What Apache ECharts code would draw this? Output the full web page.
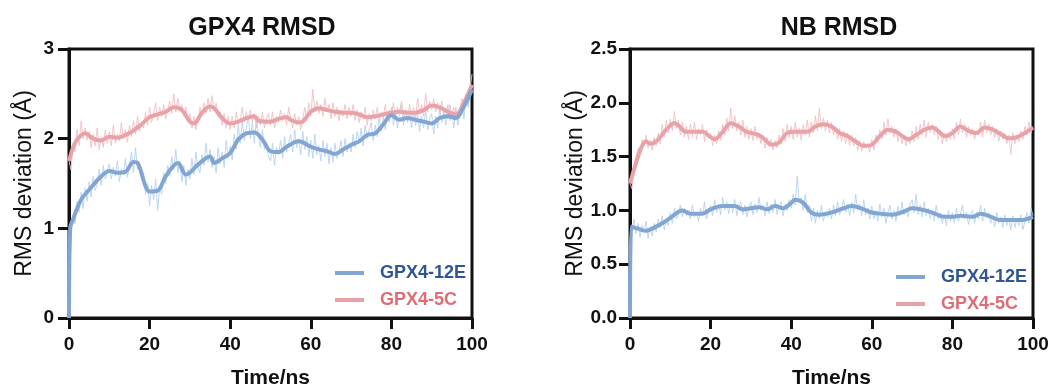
<!DOCTYPE html>
<html>
<head>
<meta charset="utf-8">
<script src="https://cdn.jsdelivr.net/npm/echarts@6/dist/echarts.min.js"></script>
<style>html,body{margin:0;padding:0;background:#fff}#c{width:1052px;height:389px}</style>
</head>
<body>
<div id="c"></div>
<script>
// ---------- data ----------
const titles = ['GPX4 RMSD', 'NB RMSD'];
const seriesNames = ['GPX4-12E', 'GPX4-5C'];
const xTicks = [0, 20, 40, 60, 80, 100];
const yTicksGPX4 = [0, 1, 2, 3];
const yTicksNB = [0.0, 0.5, 1.0, 1.5, 2.0, 2.5];
const rawStep = 0.5; // ns between raw samples

// raw trajectories (0..100 ns, every 0.5 ns)
const gpx4Raw12E = [
0.00,0.98,1.15,1.05,1.30,1.18,1.40,1.22,1.45,1.30,
1.52,1.35,1.58,1.42,1.50,1.66,1.48,1.70,1.55,1.63,
1.72,1.55,1.68,1.58,1.75,1.52,1.66,1.60,1.78,1.57,
1.70,1.85,1.62,1.90,1.66,1.72,1.55,1.62,1.38,1.50,
1.25,1.48,1.32,1.55,1.20,1.45,1.38,1.62,1.50,1.70,
1.58,1.80,1.65,1.88,1.62,1.75,1.52,1.70,1.48,1.66,
1.55,1.78,1.60,1.85,1.68,1.62,1.82,1.70,1.95,1.74,
1.88,1.68,1.80,1.62,1.90,1.72,1.85,1.68,1.98,1.78,
1.92,1.76,2.05,1.88,2.15,1.95,2.20,1.98,2.12,2.25,
2.00,2.18,1.95,2.22,2.05,1.90,2.10,1.88,1.95,1.80,
1.75,1.95,1.70,1.90,1.82,1.98,1.78,2.02,1.85,1.95,
2.05,1.85,2.10,1.90,2.00,1.82,2.08,1.88,2.02,1.80,
1.98,1.78,2.05,1.82,1.92,1.75,1.98,1.80,1.95,1.72,
1.90,1.74,1.95,1.78,1.85,1.98,1.80,2.00,1.85,1.95,
1.85,2.05,1.90,2.08,1.95,2.12,1.92,2.15,2.00,2.10,
2.18,1.98,2.15,2.02,2.22,2.08,2.25,2.10,2.30,2.18,
2.35,2.15,2.30,2.12,2.28,2.38,2.15,2.32,2.18,2.26,
2.12,2.30,2.15,2.28,2.08,2.25,2.12,2.32,2.10,2.22,
2.28,2.05,2.25,2.12,2.35,2.18,2.30,2.15,2.38,2.20,
2.30,2.12,2.35,2.15,2.28,2.40,2.22,2.45,2.35,2.50,
2.58];
const gpx4Raw5C = [
1.75,1.65,1.95,1.85,2.10,1.92,2.20,2.00,2.12,1.98,
2.08,1.90,2.05,1.92,2.12,1.88,2.02,1.90,2.10,1.95,
2.08,1.92,2.15,1.95,2.05,1.98,2.18,2.00,2.10,1.96,
2.15,2.02,2.20,2.05,2.25,2.08,2.18,2.12,2.30,2.15,
2.35,2.18,2.28,2.40,2.20,2.35,2.25,2.38,2.22,2.32,
2.42,2.28,2.50,2.30,2.45,2.32,2.38,2.25,2.35,2.20,
2.28,2.12,2.25,2.10,2.22,2.35,2.25,2.40,2.28,2.45,
2.30,2.48,2.32,2.40,2.25,2.30,2.15,2.28,2.12,2.25,
2.10,2.25,2.12,2.30,2.15,2.22,2.35,2.18,2.30,2.20,
2.32,2.18,2.28,2.12,2.25,2.15,2.30,2.12,2.22,2.28,
2.15,2.30,2.12,2.25,2.18,2.32,2.20,2.28,2.15,2.35,
2.22,2.12,2.28,2.15,2.25,2.10,2.22,2.35,2.20,2.40,
2.25,2.55,2.30,2.42,2.28,2.38,2.25,2.45,2.30,2.38,
2.22,2.40,2.25,2.35,2.20,2.32,2.25,2.38,2.22,2.35,
2.25,2.38,2.20,2.32,2.18,2.30,2.22,2.35,2.15,2.28,
2.20,2.32,2.22,2.35,2.18,2.30,2.25,2.38,2.22,2.32,
2.25,2.40,2.22,2.35,2.28,2.42,2.25,2.32,2.20,2.38,
2.25,2.35,2.22,2.45,2.28,2.38,2.25,2.50,2.30,2.42,
2.32,2.45,2.30,2.40,2.28,2.42,2.25,2.35,2.22,2.38,
2.25,2.35,2.20,2.30,2.32,2.45,2.35,2.50,2.40,2.55,
2.72];
const nbRaw12E = [
0.00,0.80,0.92,0.78,0.88,0.75,0.86,0.80,0.90,0.74,
0.85,0.76,0.88,0.80,0.92,0.84,0.95,0.82,0.90,0.86,
0.98,0.88,1.02,0.92,0.96,1.05,0.94,1.02,0.95,1.00,
0.92,1.05,0.94,0.98,0.90,1.02,0.95,1.08,0.92,0.99,
1.05,0.95,1.10,0.98,1.06,0.96,1.12,1.00,1.08,0.97,
1.06,0.98,1.10,0.95,1.04,1.08,0.96,1.05,0.94,1.02,
1.08,0.96,1.06,0.98,1.12,1.00,1.05,0.95,1.08,0.97,
1.06,0.98,1.10,0.96,1.04,1.08,0.95,1.06,1.00,1.10,
1.02,1.15,1.05,1.32,1.08,1.12,1.00,1.15,0.98,1.05,
0.90,1.02,0.88,1.00,0.92,1.05,0.90,0.98,0.94,1.02,
0.92,1.05,0.95,1.08,0.96,1.02,1.10,0.98,1.06,0.95,
1.08,0.98,1.15,1.00,1.06,0.95,1.10,0.96,1.02,0.92,
1.04,0.92,1.00,0.90,1.06,0.94,1.02,0.88,0.98,1.05,
0.92,1.00,0.90,1.04,0.95,1.08,0.96,1.02,0.94,1.06,
1.10,0.98,1.15,0.96,1.05,0.94,1.08,0.95,1.02,0.92,
1.00,0.90,1.05,0.92,0.98,0.88,0.96,0.86,1.00,0.90,
0.98,0.88,1.02,0.90,0.96,1.05,0.92,0.98,0.87,0.96,
1.00,0.88,0.98,0.92,1.05,0.90,1.02,0.94,0.98,0.88,
0.95,0.85,0.98,0.88,0.94,0.84,0.96,0.86,0.92,0.82,
0.95,0.84,0.92,0.86,0.96,0.82,0.90,0.98,0.88,1.02,
0.95];
const nbRaw5C = [
1.25,1.20,1.42,1.50,1.58,1.52,1.66,1.60,1.70,1.58,
1.65,1.56,1.68,1.60,1.72,1.62,1.80,1.68,1.84,1.72,
1.85,1.74,1.92,1.76,1.84,1.70,1.82,1.68,1.78,1.66,
1.80,1.68,1.82,1.66,1.76,1.70,1.80,1.64,1.75,1.68,
1.72,1.60,1.70,1.62,1.74,1.65,1.80,1.70,1.86,1.74,
1.95,1.76,1.88,1.74,1.82,1.70,1.84,1.68,1.78,1.66,
1.76,1.65,1.78,1.66,1.72,1.62,1.70,1.58,1.68,1.60,
1.66,1.56,1.65,1.58,1.70,1.62,1.76,1.64,1.80,1.68,
1.78,1.66,1.82,1.68,1.76,1.65,1.80,1.70,1.84,1.68,
1.82,1.72,1.88,1.74,1.95,1.76,1.86,1.74,1.84,1.72,
1.82,1.70,1.78,1.66,1.76,1.64,1.74,1.62,1.72,1.60,
1.70,1.60,1.68,1.56,1.65,1.55,1.64,1.58,1.62,1.54,
1.66,1.56,1.70,1.64,1.75,1.66,1.82,1.70,1.85,1.72,
1.78,1.68,1.76,1.64,1.72,1.62,1.70,1.60,1.68,1.62,
1.74,1.64,1.78,1.66,1.80,1.70,1.84,1.68,1.82,1.72,
1.80,1.70,1.78,1.66,1.74,1.62,1.72,1.64,1.70,1.66,
1.76,1.66,1.82,1.70,1.85,1.72,1.80,1.68,1.78,1.70,
1.76,1.66,1.74,1.70,1.82,1.68,1.84,1.72,1.80,1.70,
1.78,1.68,1.76,1.64,1.74,1.66,1.72,1.62,1.70,1.52,
1.72,1.62,1.70,1.64,1.74,1.66,1.78,1.70,1.82,1.72,
1.78];

// smoothed (running-average) curves: [time ns, RMSD Å]
const gpx4Smooth12E = [[0,0],[0.3,1.0],[1,1.1],[3,1.32],[5,1.43],[8,1.58],[10,1.64],[12,1.62],[14,1.63],[16,1.74],[17,1.73],[19,1.47],[20,1.41],[22,1.42],[24,1.58],[27,1.73],[29,1.60],[30,1.62],[32,1.71],[35,1.80],[36,1.73],[38,1.78],[40,1.84],[42,1.99],[44,2.06],[46,2.07],[48,1.99],[50,1.86],[52,1.85],[54,1.91],[57,1.97],[60,1.91],[62,1.88],[64,1.86],[66,1.83],[68,1.88],[70,1.93],[72,1.97],[74,2.04],[76,2.06],[78,2.16],[80,2.26],[82,2.21],[84,2.23],[86,2.21],[88,2.19],[90,2.17],[92,2.23],[94,2.25],[96,2.23],[98,2.36],[100,2.55]];
const gpx4Smooth5C = [[0,1.75],[1,1.90],[2,1.99],[4,2.06],[6,2.0],[8,1.98],[10,2.02],[12,2.01],[14,2.04],[16,2.09],[18,2.16],[20,2.24],[22,2.27],[24,2.30],[26,2.35],[28,2.32],[30,2.19],[31,2.17],[33,2.29],[35,2.36],[36,2.34],[38,2.23],[40,2.17],[42,2.19],[44,2.23],[46,2.25],[47,2.20],[50,2.19],[52,2.22],[54,2.24],[55,2.21],[57,2.18],[58,2.19],[60,2.30],[62,2.34],[64,2.32],[66,2.30],[68,2.29],[70,2.29],[72,2.27],[74,2.24],[76,2.25],[78,2.27],[80,2.29],[82,2.30],[84,2.29],[86,2.29],[88,2.32],[90,2.37],[92,2.35],[94,2.30],[96,2.27],[98,2.40],[100,2.60]];
const nbSmooth12E = [[0,0],[0.3,0.85],[2,0.83],[4,0.81],[6,0.84],[8,0.88],[10,0.93],[13,1.0],[15,0.97],[18,0.97],[20,1.01],[23,1.04],[26,1.04],[28,1.01],[30,1.02],[32,1.03],[34,1.01],[36,1.04],[38,1.02],[40,1.07],[41,1.10],[43,1.07],[45,0.98],[47,0.96],[50,0.98],[53,1.02],[55,1.04],[58,1.01],[60,0.98],[62,0.97],[65,0.96],[68,0.99],[70,1.02],[72,1.01],[75,0.98],[78,0.94],[80,0.94],[82,0.95],[85,0.94],[87,0.97],[89,0.95],[92,0.91],[95,0.91],[97,0.91],[100,0.94]];
const nbSmooth5C = [[0,1.25],[1,1.38],[2,1.50],[3,1.60],[4,1.64],[5,1.62],[6,1.63],[7,1.66],[9,1.75],[11,1.81],[12,1.79],[14,1.73],[16,1.73],[18,1.73],[20,1.68],[21,1.66],[23,1.73],[25,1.81],[27,1.78],[29,1.73],[32,1.70],[34,1.64],[35,1.61],[37,1.63],[39,1.72],[41,1.73],[44,1.73],[46,1.78],[48,1.80],[50,1.78],[52,1.72],[54,1.69],[56,1.64],[58,1.60],[60,1.61],[62,1.69],[64,1.75],[66,1.73],[68,1.68],[69,1.66],[71,1.70],[73,1.75],[75,1.77],[77,1.72],[78,1.69],[80,1.72],[82,1.78],[84,1.74],[86,1.72],[88,1.77],[90,1.75],[92,1.71],[94,1.67],[96,1.68],[98,1.72],[100,1.77]];

// ---------- styles ----------
const C_BLUE = '#83a5d2', C_BLUE_RAW = '#b6d2f3', C_BLUE_TXT = '#2f5597';
const C_PINK = '#e9a2a7', C_PINK_RAW = '#f3bfc3', C_PINK_TXT = '#e06c76';
const FONT = '"Liberation Sans", Arial, sans-serif';
const AXIS_C = '#111';

function toPairs(arr) { return arr.map((v, i) => [i * rawStep, v]); }

const grids = [
  { left: 69, top: 49, width: 403, height: 269, show: true, borderColor: AXIS_C, borderWidth: 3,
    backgroundColor: 'transparent', containLabel: false, outerBoundsMode: 'none' },
  { left: 630, top: 49, width: 403, height: 269, show: true, borderColor: AXIS_C, borderWidth: 3,
    backgroundColor: 'transparent', containLabel: false, outerBoundsMode: 'none' }
];

function xAxis(g) {
  return {
    type: 'value', gridIndex: g, min: xTicks[0], max: xTicks[xTicks.length - 1], interval: 20,
    name: 'Time/ns', nameLocation: 'middle', nameGap: 50,
    nameTextStyle: { fontFamily: FONT, fontSize: 21, fontWeight: 'bold', color: '#111' },
    axisLine: { lineStyle: { color: AXIS_C, width: 3 } },
    axisTick: { length: 11, lineStyle: { color: AXIS_C, width: 3 } },
    axisLabel: { margin: 17, fontFamily: FONT, fontSize: 19, fontWeight: 'bold', color: '#111' },
    splitLine: { show: false }
  };
}
function yAxis(g, ticks, interval, decimals, labelMargin) {
  return {
    type: 'value', gridIndex: g, min: ticks[0], max: ticks[ticks.length - 1], interval: interval,
    name: 'RMS deviation (Å)', nameLocation: 'middle', nameGap: 33,
    nameTextStyle: { fontFamily: FONT, fontSize: 23, color: '#111' },
    axisLine: { lineStyle: { color: AXIS_C, width: 3 } },
    axisTick: { length: 11, lineStyle: { color: AXIS_C, width: 3 } },
    axisLabel: { margin: labelMargin, fontFamily: FONT, fontSize: 19, fontWeight: 'bold', color: '#111',
      formatter: v => v.toFixed(decimals) },
    splitLine: { show: false }
  };
}

function rawSeries(name, arr, g, color) {
  return { name: name, type: 'line', xAxisIndex: g, yAxisIndex: g, data: toPairs(arr),
    showSymbol: false, symbol: 'none', lineStyle: { color: color, width: 1, opacity: 0.9 }, silent: true, z: 2 };
}
function smoothSeries(name, arr, g, color, z) {
  return { name: name, type: 'line', xAxisIndex: g, yAxisIndex: g, data: arr, smooth: 0.35,
    showSymbol: false, symbol: 'none', itemStyle: { color: color },
    lineStyle: { color: color, width: 4 }, z: z };
}

const legendBase = {
  orient: 'vertical', icon: 'rect', itemWidth: 29, itemHeight: 4, itemGap: 9, padding: 0,
  textStyle: { fontFamily: FONT, fontSize: 18, fontWeight: 'bold', padding: [0, 0, 0, 11] }
};

const option = {
  backgroundColor: '#fff',
  animation: false,
  title: [
    { text: titles[0], left: 257, top: 11, textAlign: 'center', textStyle: { fontFamily: FONT, fontSize: 25, fontWeight: 'bold', color: '#111' } },
    { text: titles[1], left: 834, top: 11, textAlign: 'center', textStyle: { fontFamily: FONT, fontSize: 25, fontWeight: 'bold', color: '#111' } }
  ],
  grid: grids,
  xAxis: [xAxis(0), xAxis(1)],
  yAxis: [yAxis(0, yTicksGPX4, 1, 0, 15), yAxis(1, yTicksNB, 0.5, 1, 13)],
  legend: [
    Object.assign({}, legendBase, { left: 335, top: 264,
      data: [{ name: seriesNames[0] + ' ', textStyle: { color: C_BLUE_TXT } }, { name: seriesNames[1] + ' ', textStyle: { color: C_PINK_TXT } }] }),
    Object.assign({}, legendBase, { left: 896, top: 268,
      data: [{ name: seriesNames[0], textStyle: { color: C_BLUE_TXT } }, { name: seriesNames[1], textStyle: { color: C_PINK_TXT } }] })
  ],
  series: [
    rawSeries('raw-gpx4-5c', gpx4Raw5C, 0, C_PINK_RAW),
    rawSeries('raw-gpx4-12e', gpx4Raw12E, 0, C_BLUE_RAW),
    smoothSeries(seriesNames[1] + ' ', gpx4Smooth5C, 0, C_PINK, 4),
    smoothSeries(seriesNames[0] + ' ', gpx4Smooth12E, 0, C_BLUE, 5),
    rawSeries('raw-nb-5c', nbRaw5C, 1, C_PINK_RAW),
    rawSeries('raw-nb-12e', nbRaw12E, 1, C_BLUE_RAW),
    smoothSeries(seriesNames[1], nbSmooth5C, 1, C_PINK, 4),
    smoothSeries(seriesNames[0], nbSmooth12E, 1, C_BLUE, 5)
  ]
};

const chart = echarts.init(document.getElementById('c'), null, { renderer: 'canvas' });
chart.setOption(option);
</script>
</body>
</html>
